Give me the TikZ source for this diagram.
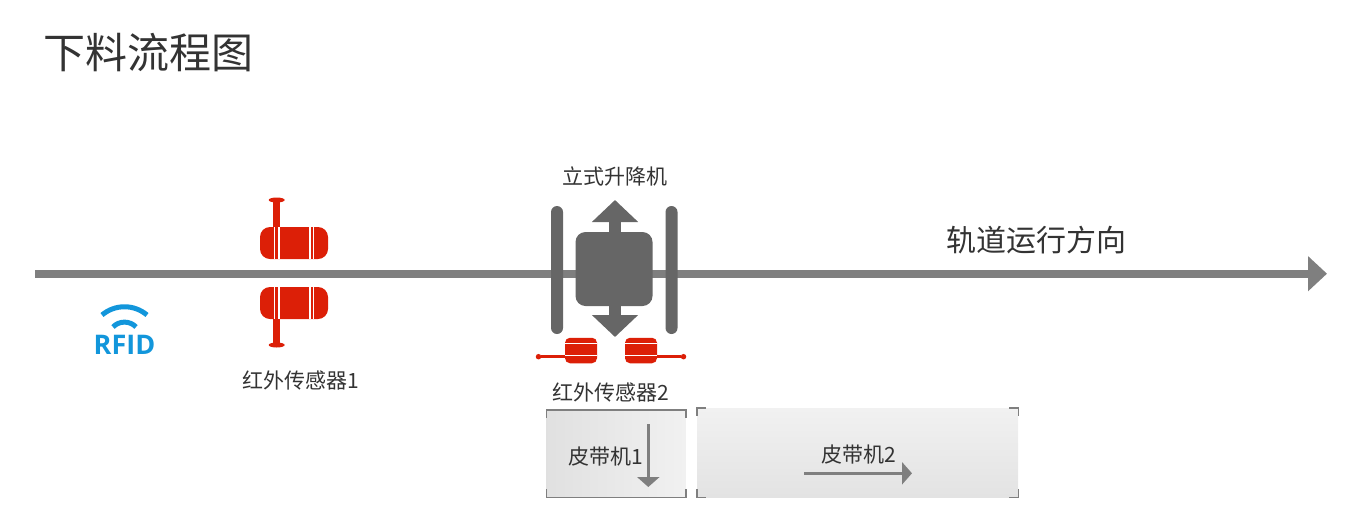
\documentclass[tikz,border=0pt]{standalone}
\usepackage{fontspec}
\setmainfont{Noto Sans CJK SC}
\newfontfamily\rfidfont{Open Sans}
\usetikzlibrary{arrows.meta,shapes.geometric}
\definecolor{trackgray}{HTML}{7F7F7F}
\definecolor{liftgray}{HTML}{666666}
\definecolor{sensorred}{HTML}{DC1F07}
\definecolor{rfidblue}{HTML}{1296DB}
\definecolor{textdark}{HTML}{333333}
\tikzset{
  label/.style={text=textdark,inner sep=0pt,font=\fontsize{21}{21}\selectfont},
  sensorh/.style={fill=sensorred,inner sep=0pt,minimum width=68pt,minimum height=32pt,rounded corners=10pt},
  sensorv/.style={fill=sensorred,inner sep=0pt,minimum width=32pt,minimum height=25.5pt,rounded corners=5pt},
  sensorline/.style={draw=sensorred,line width=6.5pt},
  sensorcap/.style={fill=sensorred,inner sep=0pt,ellipse,minimum width=16pt,minimum height=5pt},
  stripe/.style={draw=white,line width=1.4pt},
  rail/.style={fill=liftgray,inner sep=0pt,minimum width=12pt,minimum height=128pt,rounded corners=6pt},
  liftarrow/.style={draw=liftgray,line width=12pt,-{Triangle[length=22pt,width=45pt]}},
  beltarrow/.style={draw=trackgray,line width=3pt,-{Triangle[length=10pt,width=22pt]}},
  bracket/.style={draw=trackgray,line width=1.4pt},
  rfidarc/.style={draw=rfidblue,line width=5pt}
}
\begin{document}
\begin{tikzpicture}[x=1pt,y=-1pt]
  \useasboundingbox (0,0) rectangle (1357,528);
  \node[text=textdark,inner sep=0pt,font=\fontsize{42}{42}\selectfont] (title) at (148.5,53) {下料流程图};
  % Track
  \coordinate (trackstart) at (35,273.7);
  \coordinate (trackend) at (1327,273.7);
  \draw[draw=trackgray,line width=8pt,-{Triangle[length=19pt,width=34pt]}] (trackstart) -- (trackend);
  \node[text=textdark,inner sep=0pt,font=\fontsize{30}{30}\selectfont] (direction) at (1036,240) {轨道运行方向};
  % RFID
  \coordinate (arcoutl) at (102,315);
  \coordinate (arcoutr) at (147,315);
  \coordinate (arcinl) at (113,327);
  \coordinate (arcinr) at (136,327);
  \draw[rfidarc] (arcoutl) .. controls (115,304) and (134,304) .. (arcoutr);
  \draw[rfidarc] (arcinl) .. controls (119,320.5) and (130,320.5) .. (arcinr);
  \node[text=rfidblue,inner sep=0pt,font=\rfidfont\bfseries\fontsize{27}{27}\selectfont] (rfid) at (124.5,345) {RFID};
  % Sensor 1
  \node[sensorh] (sensorup) at (294,243) {};
  \node[sensorh] (sensordown) at (294,303) {};
  \node[sensorcap] (capup) at (276.7,200) {};
  \node[sensorcap] (capdown) at (276.7,345) {};
  \draw[sensorline] (capup.center) -- (276.7,228);
  \draw[sensorline] (capdown.center) -- (276.7,318);
  \foreach \sx in {274.5,279,310,313.5} {
    \draw[stripe] (\sx,227) -- (\sx,259);
    \draw[stripe] (\sx,287) -- (\sx,319);
  }
  \node[label,anchor=west] (labelone) at (242,380) {红外传感器1};
  % Lift
  \node[label] (labellift) at (615,176) {立式升降机};
  \node[rail] (railleft) at (557,270) {};
  \node[rail] (railright) at (671.5,270) {};
  \node[fill=liftgray,inner sep=0pt,minimum width=77pt,minimum height=74pt,rounded corners=10pt] (car) at (614,269) {};
  \coordinate (uptip) at (615,200);
  \coordinate (downtip) at (615,337);
  \draw[liftarrow] (615,240) -- (uptip);
  \draw[liftarrow] (615,300) -- (downtip);
  % Sensor 2
  \node[sensorv] (sensorleft) at (581,350.5) {};
  \node[sensorv] (sensorright) at (641,350.5) {};
  \node[circle,fill=sensorred,inner sep=0pt,minimum size=5.5pt] (dotleft) at (538.5,356.7) {};
  \node[circle,fill=sensorred,inner sep=0pt,minimum size=5.5pt] (dotright) at (683.5,356.7) {};
  \draw[draw=sensorred,line width=3pt] (dotleft) -- (sensorleft.west |- dotleft);
  \draw[draw=sensorred,line width=3pt] (dotright) -- (sensorright.east |- dotright);
  \draw[draw=white,line width=.9pt] (565,355.5) -- (597,355.5) (625,355.5) -- (657,355.5);
  \draw[draw=white,line width=.9pt] (565,343.3) -- (597,343.3) (625,343.3) -- (657,343.3);
  \node[label,anchor=west] (labeltwo) at (552,392) {红外传感器2};
  % Belts
  \node[inner sep=0pt,minimum width=139pt,minimum height=87pt,left color=black!12,right color=black!5.5] (beltone) at (616.2,453.5) {};
  \node[inner sep=0pt,minimum width=321pt,minimum height=89pt,top color=black!5.5,bottom color=black!11] (belttwo) at (857.5,452.5) {};
  \draw[bracket] ([yshift=-8pt]beltone.north west) -- (beltone.north west) -- (beltone.north east) -- ([yshift=-8pt]beltone.north east);
  \draw[bracket] ([yshift=8pt]beltone.south west) -- (beltone.south west) -- (beltone.south east) -- ([yshift=8pt]beltone.south east);
  \draw[bracket] ([yshift=-8pt]belttwo.north west) -- (belttwo.north west) -- ([xshift=9pt]belttwo.north west);
  \draw[bracket] ([yshift=-8pt]belttwo.north east) -- (belttwo.north east) -- ([xshift=-9pt]belttwo.north east);
  \draw[bracket] ([yshift=8pt]belttwo.south west) -- (belttwo.south west) -- ([xshift=9pt]belttwo.south west);
  \draw[bracket] ([yshift=8pt]belttwo.south east) -- (belttwo.south east) -- ([xshift=-9pt]belttwo.south east);
  \coordinate (beltonestart) at (648.3,424);
  \coordinate (beltoneend) at (648.3,487);
  \coordinate (belttwostart) at (804,473.3);
  \coordinate (belttwoend) at (912,473.3);
  \draw[beltarrow] (beltonestart) -- (beltoneend);
  \draw[beltarrow] (belttwostart) -- (belttwoend);
  \node[label,anchor=west] (labelbeltone) at (568,457) {皮带机1};
  \node[label,anchor=west] (labelbelttwo) at (821,455) {皮带机2};
\end{tikzpicture}
\end{document}
